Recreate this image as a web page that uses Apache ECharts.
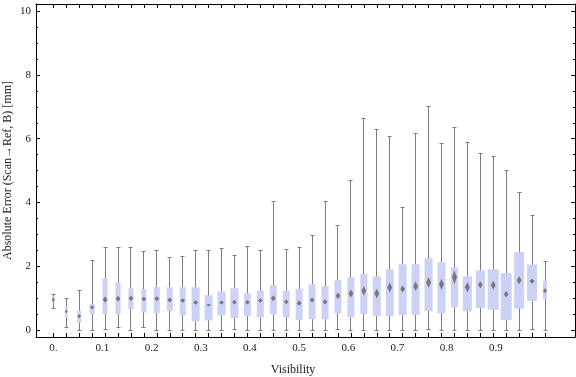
<!DOCTYPE html>
<html>
<head>
<meta charset="utf-8">
<script src="https://cdn.jsdelivr.net/npm/echarts@6/dist/echarts.min.js"></script>
<style>
  html, body { margin: 0; padding: 0; background: #fff; }
  #main { width: 576px; height: 377px; }
</style>
</head>
<body>
<div id="main"></div>
<script>
// one box per visibility bin (39 bins, left to right)
var whiskerLow  = [0.68, 0.08, 0,    0,    0.02, 0.08, 0,    0.08, 0,    0,    0,    0,    0,    0,    0.02, 0,    0,    0,    0,    0,
                   0,    0,    0.02, 0,    0,    0,    0,    0,    0,    0.02, 0,    0,    0,    0,    0,    0,    0,    0.02, 0];
var quart1      = [0.86, 0.39, 0.23, 0.51, 0.51, 0.50, 0.66, 0.56, 0.53, 0.60, 0.47, 0.28, 0.31, 0.47, 0.38, 0.44, 0.41, 0.50, 0.41, 0.32,
                   0.35, 0.34, 0.53, 0.42, 0.51, 0.45, 0.45, 0.48, 0.48, 0.60, 0.54, 0.72, 0.60, 0.70, 0.64, 0.32, 0.68, 0.92, 0.98];
var median      = [0.96, 0.59, 0.44, 0.72, 0.96, 0.99, 1.00, 0.98, 0.99, 0.95, 0.93, 0.87, 0.79, 0.87, 0.88, 0.88, 0.93, 1.00, 0.89, 0.85,
                   0.95, 0.89, 1.08, 1.15, 1.24, 1.15, 1.34, 1.29, 1.38, 1.50, 1.44, 1.66, 1.35, 1.43, 1.41, 1.13, 1.57, 1.54, 1.24];
var quart3      = [1.07, 0.75, 0.62, 0.82, 1.63, 1.50, 1.32, 1.29, 1.35, 1.35, 1.35, 1.35, 1.10, 1.22, 1.32, 1.16, 1.25, 1.41, 1.24, 1.29,
                   1.44, 1.38, 1.57, 1.66, 1.76, 1.69, 1.91, 2.07, 2.07, 2.26, 2.13, 1.97, 1.69, 1.88, 1.91, 1.79, 2.45, 2.06, 1.54];
var whiskerHigh = [1.12, 0.99, 1.24, 2.18, 2.58, 2.58, 2.58, 2.47, 2.50, 2.28, 2.31, 2.50, 2.50, 2.56, 2.34, 2.62, 2.49, 4.03, 2.53, 2.59,
                   2.97, 4.03, 3.28, 4.69, 6.63, 6.29, 6.07, 3.85, 6.17, 7.01, 5.85, 6.35, 5.88, 5.54, 5.45, 5.01, 4.32, 3.60, 2.15];
// relative box width (share of the bin spacing)
var boxWeight   = [0.21, 0.21, 0.31, 0.39, 0.39, 0.39, 0.39, 0.39, 0.46, 0.46, 0.46, 0.62, 0.62, 0.62, 0.62, 0.54, 0.54, 0.54, 0.54, 0.54,
                   0.54, 0.54, 0.54, 0.54, 0.54, 0.62, 0.62, 0.62, 0.62, 0.62, 0.62, 0.54, 0.70, 0.70, 0.85, 0.85, 0.77, 0.77, 0.31];
// half height of the median diamond
var medianSpread = [0.08, 0.06, 0.06, 0.06, 0.10, 0.09, 0.08, 0.07, 0.08, 0.08, 0.07, 0.07, 0.04, 0.06, 0.07, 0.07, 0.07, 0.09, 0.07, 0.08,
                    0.08, 0.08, 0.10, 0.13, 0.15, 0.15, 0.16, 0.11, 0.15, 0.17, 0.17, 0.22, 0.16, 0.11, 0.14, 0.10, 0.13, 0.08, 0.08];

var xTickValues = [0, 0.1, 0.2, 0.3, 0.4, 0.5, 0.6, 0.7, 0.8, 0.9];
var xTickLabels = ['0.', '0.1', '0.2', '0.3', '0.4', '0.5', '0.6', '0.7', '0.8', '0.9'];
var yTickValues = [0, 2, 4, 6, 8, 10];
var yMinorValues = [0.5, 1, 1.5, 2.5, 3, 3.5, 4.5, 5, 5.5, 6.5, 7, 7.5, 8.5, 9, 9.5];

var nBins = median.length;
var step = 1 / (nBins - 1);
var binPos = [];
var rows = [];
for (var i = 0; i < nBins; i++) {
    binPos.push(i * step);
    rows.push([i * step, whiskerLow[i], quart1[i], median[i], quart3[i], whiskerHigh[i], boxWeight[i], medianSpread[i]]);
}

var X_MIN = -0.0352, X_MAX = 1.061;
var Y_MIN = -0.21, Y_MAX = 10.22;
var serif = 'Liberation Serif';

function crisp(v) { return Math.round(v - 0.5) + 0.5; }

function renderBox(params, api) {
    var x = api.value(0);
    var lo = api.coord([x, api.value(1)]);
    var q1 = api.coord([x, api.value(2)]);
    var md = api.coord([x, api.value(3)]);
    var q3 = api.coord([x, api.value(4)]);
    var hi = api.coord([x, api.value(5)]);
    var half = api.value(6) * step / 2;
    var left = api.coord([x - half, 0])[0];
    var right = api.coord([x + half, 0])[0];
    var mdTop = api.coord([x, api.value(3) + api.value(7)])[1];
    var mdBot = api.coord([x, api.value(3) - api.value(7)])[1];
    var cx = crisp(lo[0]);
    var dw = Math.min(2.4, (right - left) / 2);
    var lineStyle = { stroke: '#7c7c7c', lineWidth: 1 };
    return {
        type: 'group',
        children: [
            { type: 'line', shape: { x1: cx, y1: lo[1], x2: cx, y2: hi[1] }, style: lineStyle },
            { type: 'line', shape: { x1: cx - 2, y1: crisp(lo[1]), x2: cx + 2, y2: crisp(lo[1]) }, style: lineStyle },
            { type: 'line', shape: { x1: cx - 2, y1: crisp(hi[1]), x2: cx + 2, y2: crisp(hi[1]) }, style: lineStyle },
            { type: 'rect', shape: { x: left, y: q3[1], width: right - left, height: q1[1] - q3[1] },
              style: { fill: '#ccd2f6' } },
            { type: 'polygon', shape: { points: [[lo[0], mdTop], [lo[0] + dw, md[1]], [lo[0], mdBot], [lo[0] - dw, md[1]]] },
              style: { fill: '#777777' } }
        ]
    };
}

var chart = echarts.init(document.getElementById('main'));
var labelStyle = { color: '#1a1a1a', fontFamily: serif, fontSize: 11 };
var gridBox = { left: 36, right: 1, top: 4, bottom: 40, containLabel: false, outerBoundsMode: 'none' };

function hiddenX(g) {
    return { gridIndex: g, type: 'value', min: X_MIN, max: X_MAX, show: false };
}
function yFrame(g, pos, ticks, len, withLine) {
    return {
        gridIndex: g, type: 'value', min: Y_MIN, max: Y_MAX, position: pos,
        axisLine: { show: withLine, onZero: false, lineStyle: { color: '#000', width: 1 } },
        axisTick: { inside: true, length: len, customValues: ticks, lineStyle: { color: '#000' } },
        axisLabel: { show: false },
        splitLine: { show: false }
    };
}

var option = {
    animation: false,
    grid: [gridBox, gridBox, gridBox, gridBox],
    xAxis: [{
        gridIndex: 0, type: 'value', min: X_MIN, max: X_MAX, position: 'bottom',
        name: 'Visibility', nameLocation: 'middle', nameGap: 27, nameMoveOverlap: false,
        nameTextStyle: { color: '#1a1a1a', fontFamily: serif, fontSize: 12, padding: [0, 25, 0, 0] },
        axisLine: { onZero: false, lineStyle: { color: '#000', width: 1 } },
        axisTick: { inside: true, length: 4, customValues: binPos, lineStyle: { color: '#000' } },
        axisLabel: Object.assign({ margin: 6, customValues: xTickValues,
            formatter: function (v) { return xTickLabels[Math.round(v * 10)]; } }, labelStyle),
        splitLine: { show: false }
    }, {
        gridIndex: 1, type: 'value', min: X_MIN, max: X_MAX, position: 'top',
        axisLine: { onZero: false, lineStyle: { color: '#000', width: 1 } },
        axisTick: { inside: true, length: 4, customValues: binPos, lineStyle: { color: '#000' } },
        axisLabel: { show: false },
        splitLine: { show: false }
    }, hiddenX(2), hiddenX(3)],
    yAxis: [{
        gridIndex: 0, type: 'value', min: Y_MIN, max: Y_MAX, position: 'left',
        name: 'Absolute Error (Scan\u2192Ref, B) [mm]', nameLocation: 'middle', nameGap: 22, nameRotate: 90,
        nameMoveOverlap: false,
        nameTextStyle: { color: '#1a1a1a', fontFamily: serif, fontSize: 12 },
        axisLine: { show: true, onZero: false, lineStyle: { color: '#000', width: 1 } },
        axisTick: { inside: true, length: 4, customValues: yTickValues, lineStyle: { color: '#000' } },
        axisLabel: Object.assign({ margin: 5, customValues: yTickValues }, labelStyle),
        splitLine: { show: false }
    },
        yFrame(1, 'right', yTickValues, 4, true),
        yFrame(2, 'left', yMinorValues, 2, false),
        yFrame(3, 'right', yMinorValues, 2, false)
    ],
    series: [{
        type: 'custom',
        xAxisIndex: 0,
        yAxisIndex: 0,
        renderItem: renderBox,
        encode: { x: 0, y: [1, 5] },
        data: rows,
        clip: true
    }]
};
chart.setOption(option);
</script>
</body>
</html>
